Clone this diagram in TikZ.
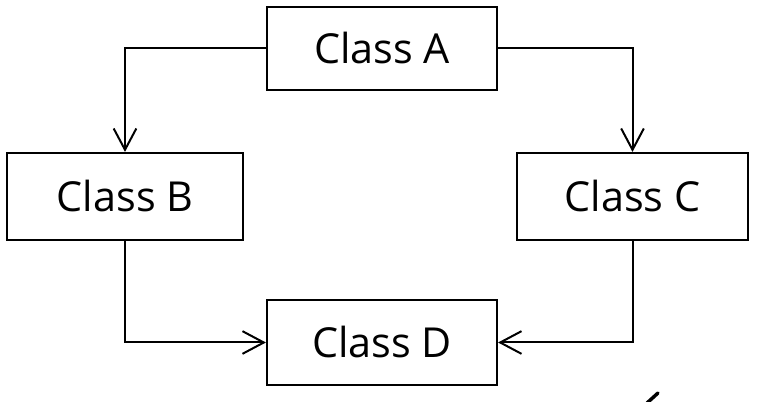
\documentclass[tikz,border=0pt]{standalone}
\usepackage{fontspec}
\setmainfont{Open Sans}
\usetikzlibrary{arrows.meta}
\begin{document}
\begin{tikzpicture}[x=0.75pt,y=-0.75pt,
  cls/.style={draw, line width=1.6pt, minimum width=230*0.75pt, minimum height=83*0.75pt, inner sep=0pt, font=\fontsize{31}{36}\selectfont},
  conn/.style={line width=1.5pt, -{Straight Barb[length=16pt,width=17pt,line width=1.5pt]}}]
\useasboundingbox (0,0) rectangle (760,402);
\node[cls] (A) at (382,48.5) {Class A};
\node[cls, minimum width=236*0.75pt, minimum height=87*0.75pt] (B) at (125,196.5) {Class B};
\node[cls, minimum width=231*0.75pt, minimum height=87*0.75pt] (C) at (632.5,196.5) {Class C};
\node[cls, minimum height=85*0.75pt] (D) at (382,342.5) {Class D};
\draw[conn] (A.west) -| (B.north);
\draw[conn] (A.east) -| (C.north);
\draw[conn] (B.south) |- (D.west);
\draw[conn] (C.south) |- (D.east);
\coordinate (m1) at (647,403);
\coordinate (m2) at (658,393);
\draw[line width=2.6pt, line cap=round] (m1) -- (m2);
\end{tikzpicture}
\end{document}
